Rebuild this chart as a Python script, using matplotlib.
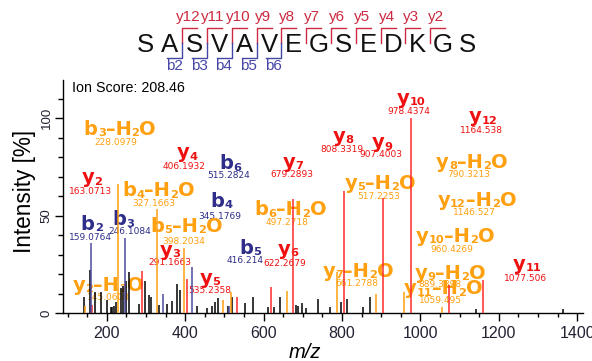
import re
import matplotlib
matplotlib.use("Agg")
import matplotlib.pyplot as plt
from matplotlib.lines import Line2D
from matplotlib.font_manager import FontProperties
from matplotlib.ticker import MultipleLocator

plt.rcParams["font.family"] = "Liberation Sans"

# peptide and matched fragments (header)
sequence = "SASVAVEGSEDKGS"
y_ions = [12, 11, 10, 9, 8, 7, 6, 5, 4, 3, 2]
b_ions = [2, 3, 4, 5, 6]
ion_score = "Ion Score: 208.46"

# spectrum peaks: m/z, relative intensity [%], kind (k = unmatched, y, b, w = water loss)
peak_mz = [142, 157, 171, 184.7, 200, 210, 214, 218.7, 223.7, 236.7, 240.8, 248.5, 257,
           282.4, 298.5, 307, 312, 334, 353, 367.4, 380, 387, 429.6, 455, 468, 476, 485,
           508.7, 518.9, 552.8, 572.4, 612, 626.8, 642, 684, 688, 699, 708.5, 740,
           769.6, 797.7, 813.8, 854.6, 871.7, 1142, 1363,
           162.5, 290, 405.6, 531.6, 618.4, 676, 806, 904, 976, 1074, 1161,
           160, 246, 343, 416.8, 513,
           145.4, 229.6, 327.6, 398, 497.6, 517, 659, 788, 886, 958, 1056]
peak_int = [8, 22, 10.6, 10.6, 6.7, 3.2, 3, 3.5, 5.4, 13, 14, 16.6, 21,
            4.8, 16.6, 9, 8, 4, 4.6, 6.3, 15, 11.8, 3.4, 2.6, 3.4, 5.8, 7.5,
            3.4, 8, 5, 8, 3, 3, 8, 4, 3.5, 5, 2.5, 7.2,
            2.9, 5.8, 7.2, 2.9, 8, 2, 2,
            4.3, 21.7, 17.5, 8, 13.3, 58.6, 62.5, 59, 100, 14.5, 17.1,
            35.8, 38.5, 9.8, 23.4, 3.4,
            3.8, 66.3, 53.4, 33.4, 6.8, 10.8, 11.5, 20.9, 10, 10.6, 2.9]
peak_kind = ["k"] * 46 + ["y"] * 11 + ["b"] * 5 + ["w"] * 11

# peak annotations: name, mass text, name anchor (m/z, %), mass anchor (m/z, %)
label_name = ["b3-H2O", "y4", "b6", "y7", "y2", "b4-H2O", "b4", "b6-H2O", "b2", "b3",
              "b5-H2O", "y3", "b5", "y6", "y5", "y2-H2O", "y7-H2O", "y9-H2O", "y11-H2O",
              "y10-H2O", "y11", "y12-H2O", "y8-H2O", "y5-H2O", "y8", "y9", "y10", "y12"]
label_mass = ["228.0979", "406.1932", "515.2824", "679.2893", "163.0713", "327.1663",
              "345.1769", "497.2718", "159.0764", "246.1084", "398.2034", "291.1663",
              "416.214", "622.2679", "535.2358", "145.0608", "661.2788", "889.3898",
              "1059.495", "960.4269", "1077.506", "1146.527", "790.3213", "517.2253",
              "808.3319", "907.4003", "978.4374", "1164.538"]
name_mz = [233.9, 404.1, 516.3, 676.0, 161.7, 331.6, 493.4, 667.6, 161.7, 242.3,
           404.1, 361.5, 565.6, 663.3, 463.5, 204.1, 841.8, 1075.8, 1058.7,
           1088.5, 1271.4, 1143.9, 1131.1, 897.2, 803.6, 901.5, 975.5, 1160.7]
name_int = [94.9, 82.0, 77.1, 77.1, 69.2, 63.2, 57.7, 53.4, 46.0, 48.3,
            44.9, 32.0, 33.7, 32.4, 17.5, 14.5, 21.7, 20.9, 12.8,
            39.7, 24.8, 58.2, 77.7, 67.1, 90.6, 87.2, 110.0, 100.5]
mass_mz = [223.7, 397.2, 510.2, 671.9, 159.2, 320.7, 489.0, 659.2, 159.2, 259.4,
           395.4, 361.5, 552.8, 654.8, 463.5, 204.1, 837.8, 1050.3, 1050.3,
           1080.1, 1268.9, 1137.0, 1122.4, 892.9, 799.5, 899.0, 971.9, 1156.6]
mass_int = [87.7, 75.3, 70.6, 70.9, 62.3, 56.5, 49.6, 46.6, 38.8, 41.8,
            36.8, 26.0, 26.9, 25.5, 11.5, 8.0, 14.9, 14.5, 6.3,
            32.4, 17.8, 51.4, 70.9, 59.9, 83.9, 81.2, 103.4, 93.7]

line_col = {"k": "black", "y": "#ff2a2a", "b": "#4b4ba0", "w": "#ffa010"}
text_col = {"y": "#ee1111", "b": "#2e2e8a", "w": "#ffa010"}

W, H = 592, 361
fig = plt.figure(figsize=(W / 100, H / 100), dpi=100)
ax = fig.add_axes([63 / W, 1 - 313 / H, 520 / W, 233 / H])
renderer = fig.canvas.get_renderer()

fp_big = FontProperties(family="DejaVu Sans", weight="bold", size=14)
fp_small = FontProperties(family="DejaVu Sans", weight="bold", size=8.2)


def draw_ion(x, y, s, color):
    # big letters, small digits, all roughly on one baseline
    pieces = re.findall(r"\d+|[^\d]+", s.replace("-", "\u2013"))
    props = [fp_small if p.isdigit() else fp_big for p in pieces]
    widths = [renderer.get_text_width_height_descent(p, fp, ismath=False)[0] * 0.72
              for p, fp in zip(pieces, props)]
    base = -3.5 if s[0] == "y" and "H2O" not in s else -4.5
    off = -sum(widths) / 2
    for p, fp, w in zip(pieces, props, widths):
        dy = base - 1.0 if p.isdigit() else base
        ax.annotate(p, (x, y), xytext=(off, dy), textcoords="offset points",
                    ha="left", va="baseline", fontproperties=fp, color=color, zorder=1)
        off += w


def fx(px):
    return px / W


def fy(py):
    return 1 - py / H


# header: sequence with fragment brackets
seq_x0, pitch = 145, 24.8
red_br, blue_br = "#cc2a40", "#4646a6"
for i, aa in enumerate(sequence):
    fig.text(fx(seq_x0 + i * pitch), fy(51.5), aa, ha="center", va="baseline",
             fontsize=18.5, color="#111111")
n = len(sequence)
for k in y_ions:
    xb = seq_x0 + (n - k - 0.5) * pitch
    fig.add_artist(Line2D([fx(xb), fx(xb), fx(xb + 15)], [fy(42.5), fy(27.5), fy(27.5)],
                          transform=fig.transFigure, color=red_br, lw=1.0))
    fig.text(fx(xb + 6), fy(16.5), "y%d" % k, ha="center", va="center",
             fontsize=11, color=red_br)
for k in b_ions:
    xb = seq_x0 + (k - 0.5) * pitch
    fig.add_artist(Line2D([fx(xb), fx(xb), fx(xb - 15)], [fy(42.5), fy(57.5), fy(57.5)],
                          transform=fig.transFigure, color=blue_br, lw=1.0))
    fig.text(fx(xb - 8), fy(66.5), "b%d" % k, ha="center", va="center",
             fontsize=11, color=blue_br)

# spectrum
for kind in ["k", "y", "b", "w"]:
    xs = [m for m, t in zip(peak_mz, peak_kind) if t == kind]
    hs = [v for v, t in zip(peak_int, peak_kind) if t == kind]
    ax.vlines(xs, 0, hs, colors=line_col[kind], lw=1.1, zorder=3)

for nm, ms, x1, y1, x2, y2 in zip(label_name, label_mass, name_mz, name_int, mass_mz, mass_int):
    c = text_col["w"] if "H2O" in nm else text_col[nm[0]]
    draw_ion(x1, y1, nm, c)
    ax.text(x2, y2, ms, ha="center", va="center", fontsize=6.5, color=c,
            family="DejaVu Sans", zorder=1)

ax.text(0.018, 0.967, ion_score, transform=ax.transAxes, ha="left", va="center",
        fontsize=10.3)

ax.set_xlim(88.5, 1415)
ax.set_ylim(0, 119.7)
ax.spines["top"].set_visible(False)
ax.spines["right"].set_visible(False)
for s in ["left", "bottom"]:
    ax.spines[s].set_linewidth(1.0)
ax.xaxis.set_major_locator(MultipleLocator(200))
ax.xaxis.set_minor_locator(MultipleLocator(50))
ax.yaxis.set_major_locator(MultipleLocator(50))
ax.yaxis.set_minor_locator(MultipleLocator(10))
ax.tick_params(axis="x", which="major", length=5.5, width=1.0, labelsize=11.5, pad=4,
               labelcolor="#222233")
ax.tick_params(axis="x", which="minor", length=3.1, width=1.0)
ax.tick_params(axis="y", which="major", length=5.5, width=1.0, labelsize=9.5, pad=2,
               labelcolor="#222233")
ax.tick_params(axis="y", which="minor", length=3.6, width=1.0)
for lab in ax.get_yticklabels():
    lab.set_rotation(90)
    lab.set_va("center")

fig.text(fx(25), fy(191.5), "Intensity [%]", rotation=90, ha="center", va="center",
         fontsize=16.3)
fig.text(fx(305), fy(353), "m/z", style="italic", ha="center", va="center", fontsize=14.5)

fig.savefig("out.png", dpi=100)
